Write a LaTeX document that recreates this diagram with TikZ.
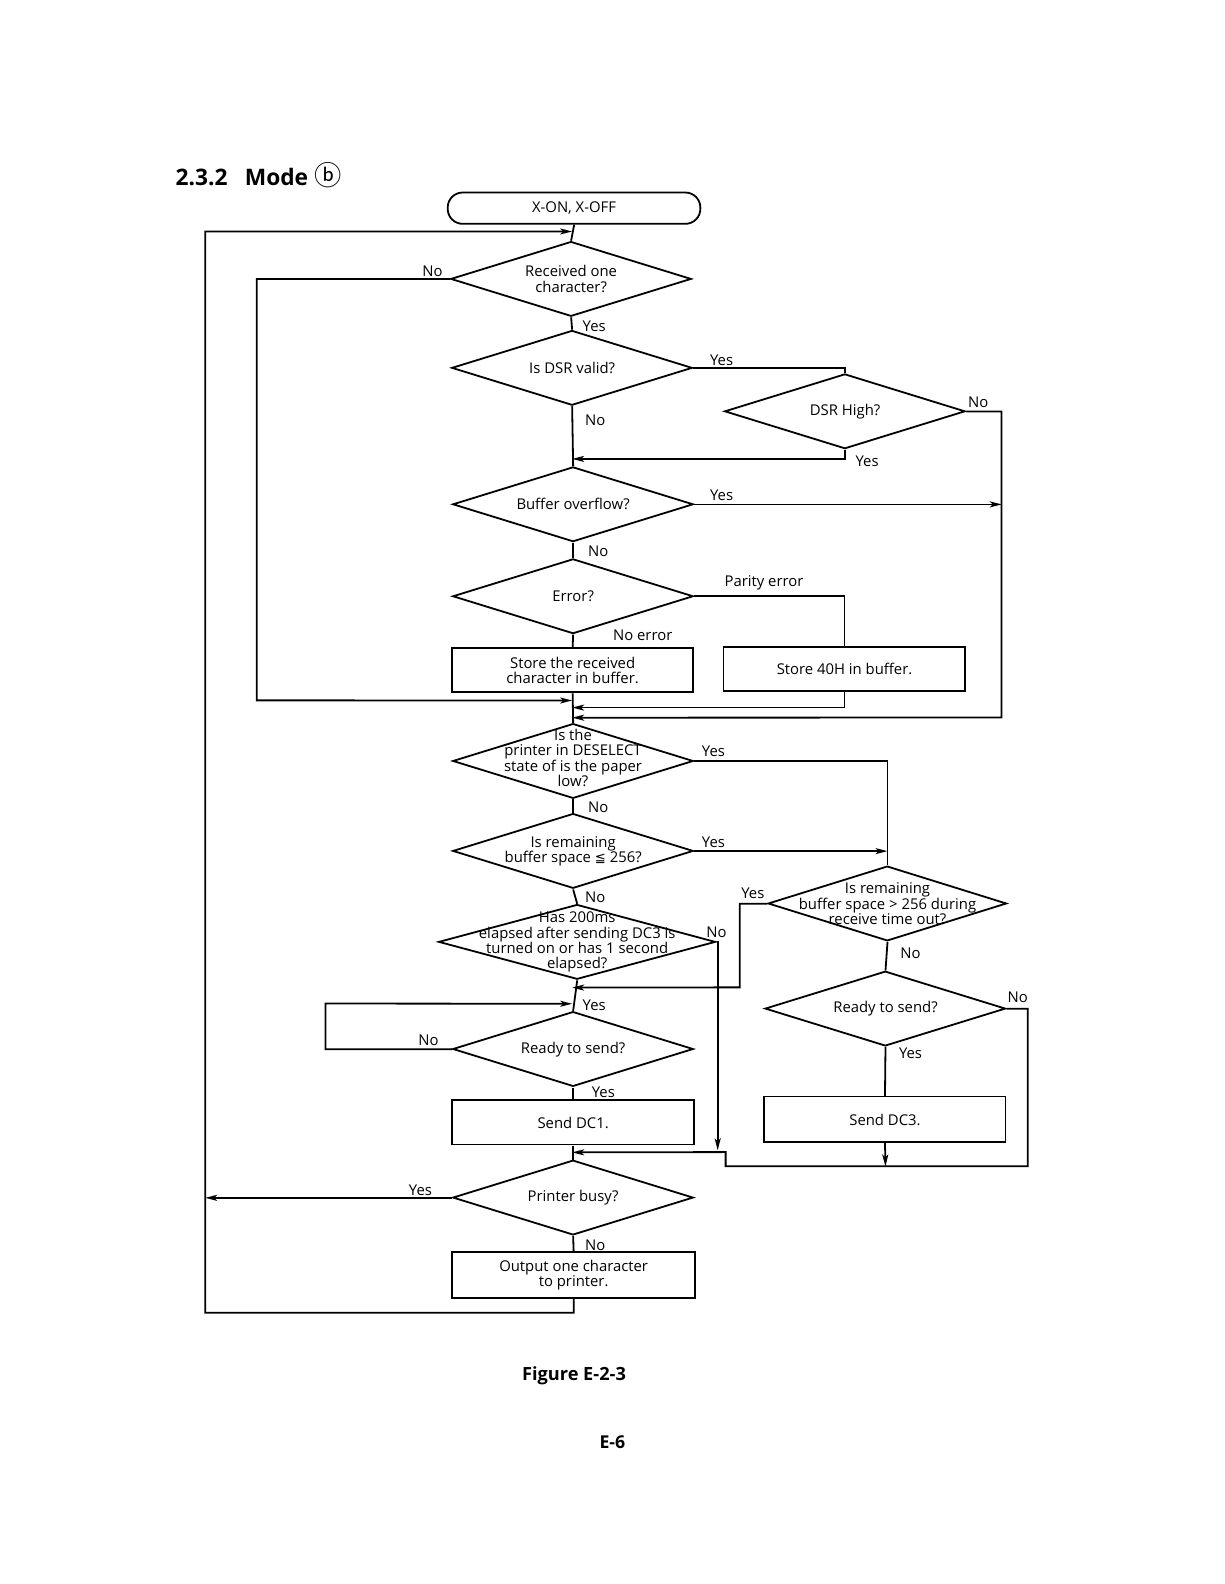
\documentclass[tikz,border=0pt]{standalone}
\usepackage{fontspec}
\setmainfont{Open Sans}
\newfontfamily\symfont{DejaVu Sans}
\newfontfamily\cjkfont{Noto Sans CJK JP}
\usetikzlibrary{shapes.geometric,arrows.meta}
\begin{document}
\begin{tikzpicture}[x=1pt,y=-1pt, scale=1.0106, transform shape,
  line width=1.8pt,
  every node/.style={font=\fontsize{14.7}{15}\selectfont, align=center, inner sep=0pt},
  dia/.style={draw, diamond, minimum width=238pt, minimum height=74pt},
  box/.style={draw, rectangle, minimum width=240pt, minimum height=44pt},
  arr/.style={-{Stealth[length=12pt,width=6pt,inset=3pt]}},
]
\useasboundingbox (0,0) rectangle (1211.17,1567.39);

% title
\node[anchor=base west, font=\fontsize{22.5}{24}\selectfont\bfseries] (title) at (173,184) {2.3.2\hspace{17pt}Mode {\cjkfont\mdseries\fontsize{27}{24}\selectfont ⓑ}};

% start
\node[draw, rounded corners=15pt, minimum width=250pt, minimum height=31pt] (start) at (568,206) {X-ON, X-OFF};

% decisions
\node[dia] (d1) at (565,276) {};
\node (d1t) at (d1) {Received one\\character?};
\node[dia] (d2) at (566,364) {};
\node (d2t) at (d2) {Is DSR valid?};
\node[dia] (d3) at (836,407) {};
\node (d3t) at (d3) {DSR High?};
\node[dia] (d4) at (567,499) {};
\node (d4t) at (d4) {Buffer overflow?};
\node[dia] (d5) at (567,590) {};
\node (d5t) at (d5) {Error?};
\node[box, minimum width=239pt] (b1) at (566.5,663) {};
\node (b1t) at (b1) {Store the received\\character in buffer.};
\node[box, minimum width=239pt] (b2) at (835.5,662) {};
\node (b2t) at (b2) {Store 40H in buffer.};

\node[dia] (d6) at (567,753) {};
\node (d6t) at (567,750) {Is the\\printer in DESELECT\\state of is the paper\\low?};
\node[dia] (d7) at (567,842) {};
\node (d7t) at (d7) {Is remaining\\buffer space {\symfont\fontsize{13}{15}\selectfont ≦} 256?};
\node[dia, minimum width=236pt] (d8) at (878,894) {};
\node (d8t) at (d8) {Is remaining\\buffer space > 256 during\\receive time out?};
\node[dia, minimum width=274pt] (d9) at (571,932) {};
\node (d9t) at (d9) {Has 200ms\\elapsed after sending DC3 is\\turned on or has 1 second\\elapsed?};
\node[dia] (d10) at (567,1038) {};
\node (d10t) at (d10) {Ready to send?};
\node[dia] (d11) at (876,998) {};
\node (d11t) at (d11) {Ready to send?};
\node[box] (dc1) at (567,1110.5) {};
\node (dc1t) at (dc1) {Send DC1.};
\node[box, minimum width=239pt, minimum height=45pt] (dc3) at (875.5,1107.5) {};
\node (dc3t) at (dc3) {Send DC3.};
\node[dia] (d12) at (567,1185) {};
\node (d12t) at (d12) {Printer busy?};
\node[box, minimum height=45pt] (out) at (567.5,1261.5) {};
\node (outt) at (out) {Output one character\\to printer.};

% junction coordinates
\coordinate (j0) at (566,229);
\coordinate (j1) at (566,693);
\coordinate (j2) at (566,454);
\coordinate (j3) at (991,499);
\coordinate (j4) at (566,710);
\coordinate (j5) at (566,700);
\coordinate (j6) at (878,842);
\coordinate (j7) at (566,977);
\coordinate (j8) at (566,993);
\coordinate (j9) at (710,1138);
\coordinate (j10) at (566,1140);
\coordinate (j11) at (876,1154);
\coordinate (j12) at (203,1185);

% connectors
\draw (start.south) -- (d1.north);
\draw[arr] (out.south) |- (203,1299) -- (203,229) -- (j0);
\draw[arr] (d1.west) -| (254,693) -- (j1);
\draw (d1.south) -- (d2.north);
\draw (d2.east) -| (d3.north);
\draw[arr] (d3.south) |- (j2);
\draw[arr] (d3.east) -| (991,710) -- (j4);
\draw (d2.south) -- (d4.north);
\draw[arr] (d4.east) -- (j3);
\draw (d4.south) -- (d5.north);
\draw (d5.east) -| (b2.north);
\draw (d5.south) -- (b1.north);
\draw (b1.south) -- (d6.north);
\draw[arr] (b2.south) |- (j5);
\draw (d6.east) -| (d8.north);
\draw (d6.south) -- (d7.north);
\draw[arr] (d7.east) -- (j6);
\draw (d7.south) -- (d9.north);
\draw (d9.south) -- (d10.north);
\draw[arr] (d9.east) -| (j9);
\draw[arr] (d8.west) -| (732,977) -- (j7);
\draw (d8.south) -- (d11.north);
\draw (d11.south) -- (dc3.north);
\draw[arr] (d11.east) -| (1017,1154) -- (718,1154) -- (718,1140) -- (j10);
\draw[arr] (dc3.south) -- (j11);
\draw[arr] (d10.west) -| (322,993) -- (j8);
\draw (d10.south) -- (dc1.north);
\draw (dc1.south) -- (d12.north);
\draw[arr] (d12.west) -- (j12);
\draw (d12.south) -- (out.north);

% labels
\node (l1) at (428,268) {No};
\node (l2) at (588,323) {Yes};
\node (l3) at (714,356) {Yes};
\node (l4) at (968,398) {No};
\node (l5) at (858,456) {Yes};
\node (l6) at (589,416) {No};
\node (l7) at (714,490) {Yes};
\node (l8) at (592,545) {No};
\node (l9) at (756,577) {Parity error};
\node (l10) at (636,629) {No error};
\node (l11) at (706,743) {Yes};
\node (l12) at (592,799) {No};
\node (l13) at (706,833) {Yes};
\node (l14) at (589,888) {No};
\node (l15) at (745,884) {Yes};
\node (l16) at (709,922) {No};
\node (l17) at (901,943) {No};
\node (l18) at (1007,987) {No};
\node (l19) at (588,995) {Yes};
\node (l20) at (424,1029) {No};
\node (l21) at (901,1042) {Yes};
\node (l22) at (597,1081) {Yes};
\node (l23) at (416,1178) {Yes};
\node (l24) at (589,1232) {No};

% caption
\node[font=\fontsize{18}{20}\selectfont\bfseries] (cap) at (568,1361) {Figure E-2-3};
\node[font=\fontsize{17.5}{20}\selectfont\bfseries] (pg) at (606,1427) {E-6};
\end{tikzpicture}
\end{document}
